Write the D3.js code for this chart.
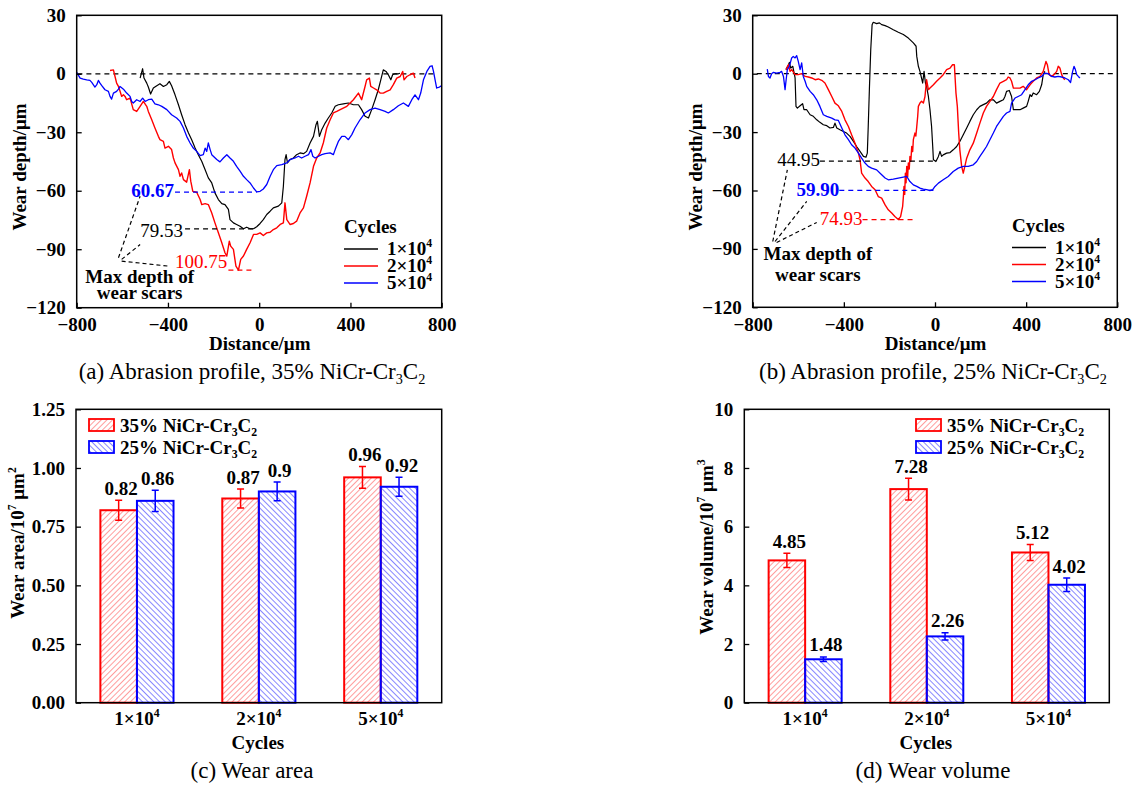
<!DOCTYPE html>
<meta charset="utf-8">
<script src="https://d3js.org/d3.v7.min.js"></script>
<style>
  body { margin: 0; background: #fff; }
</style>
<div id="chart"></div>
<script>

// ---- wear profiles: [distance (um), wear depth (um)] ----
var depthA1 = [[-522,-2.2],[-511,2.6],[-505,-2.2],[-493,-4.8],[-486,-6.8],[-476,-10.4],[-464,-7.3],[-449,-6.1],[-435,-5.1],[-420,-6.5],[-405,-5.6],[-394,-3.9],[-384,-6.1],[-369,-10.8],[-354,-15.9],[-340,-21.0],[-325,-26.1],[-310,-30.4],[-296,-33.8],[-281,-38.1],[-267,-41.5],[-252,-44.9],[-237,-49.2],[-223,-53.4],[-208,-56.0],[-194,-61.1],[-179,-64.5],[-164,-66.6],[-150,-67.1],[-135,-69.6],[-128,-74.8],[-113,-76.5],[-99,-77.3],[-84,-78.2],[-69,-79.5],[-55,-78.7],[-40,-79.5],[-25,-79.5],[-11,-78.5],[4,-76.8],[18,-74.8],[33,-72.2],[48,-70.5],[62,-68.8],[84,-67.9],[99,-66.2],[106,-57.7],[113,-44.0],[118,-41.5],[124,-45.7],[135,-44.0],[150,-43.2],[164,-41.5],[179,-40.6],[194,-41.0],[208,-39.8],[223,-35.5],[238,-32.1],[249,-26.1],[255,-24.4],[264,-32.1],[274,-28.7],[289,-25.3],[303,-22.7],[318,-20.1],[333,-16.7],[347,-15.9],[369,-15.4],[391,-15.0],[413,-15.9],[435,-15.9],[449,-18.4],[464,-21.8],[479,-22.7],[493,-18.4],[508,-13.3],[522,-8.2],[533,-3.1],[544,2.0],[556,1.2],[566,-0.5],[577,-3.1],[585,-0.5],[596,0],[610,0],[617,0.3]];
var depthA2 = [[-654,1.7],[-639,2.0],[-632,-1.4],[-625,-4.8],[-617,-6.5],[-610,-9.0],[-603,-11.6],[-595,-10.8],[-588,-11.6],[-581,-13.3],[-566,-12.5],[-552,-18.4],[-537,-19.3],[-522,-16.7],[-508,-14.2],[-493,-16.7],[-486,-19.3],[-471,-23.6],[-457,-27.8],[-442,-32.1],[-435,-33.8],[-420,-34.7],[-413,-38.1],[-398,-37.2],[-384,-38.9],[-376,-43.2],[-369,-45.7],[-354,-49.2],[-347,-52.6],[-340,-50.9],[-332,-54.3],[-318,-55.6],[-306,-49.2],[-300,-55.1],[-291,-60.3],[-274,-60.8],[-259,-64.5],[-252,-67.1],[-237,-66.6],[-223,-67.1],[-208,-71.4],[-194,-76.5],[-179,-81.6],[-164,-86.7],[-150,-91.8],[-142,-93.5],[-131,-85.9],[-125,-88.4],[-113,-90.1],[-102,-98.7],[-91,-100.7],[-81,-95.2],[-69,-93.5],[-55,-90.1],[-40,-86.7],[-25,-82.4],[-11,-82.4],[4,-81.6],[18,-83.0],[33,-81.6],[48,-81.3],[62,-79.9],[77,-79.0],[92,-77.3],[106,-76.5],[113,-66.2],[121,-74.8],[135,-77.3],[150,-76.8],[164,-75.6],[179,-71.4],[194,-68.8],[208,-62.8],[223,-56.0],[238,-47.5],[252,-43.2],[267,-40.6],[281,-35.5],[296,-27.8],[311,-23.6],[325,-20.1],[340,-19.3],[355,-18.4],[384,-16.7],[413,-13.3],[435,-9.9],[449,-13.3],[464,-6.5],[471,-3.1],[483,-2.2],[489,-6.5],[501,-7.3],[515,-8.2],[530,-9.9],[544,-9.9],[559,-9.0],[574,-8.2],[588,-5.6],[603,-2.2],[618,-1.4],[629,1.2],[635,-3.1],[647,-1.4],[661,-0.5],[676,0.3],[683,-2.2]];
var depthA5 = [[-800,0.7],[-785,-2.2],[-771,-2.7],[-756,-3.1],[-742,-3.4],[-734,-4.4],[-720,-6.8],[-712,-5.6],[-705,-3.4],[-698,-4.8],[-690,-6.1],[-676,-8.2],[-661,-9.0],[-654,-11.6],[-647,-13.0],[-639,-9.9],[-625,-9.0],[-617,-7.9],[-610,-6.5],[-595,-7.9],[-581,-9.9],[-566,-11.6],[-559,-14.2],[-552,-15.0],[-537,-13.3],[-522,-14.2],[-511,-12.5],[-500,-14.2],[-486,-13.3],[-471,-13.0],[-457,-15.4],[-442,-15.9],[-427,-16.7],[-405,-18.4],[-384,-21.0],[-362,-22.7],[-347,-24.4],[-332,-27.8],[-318,-32.1],[-303,-35.5],[-289,-38.1],[-274,-39.8],[-259,-42.0],[-245,-41.5],[-237,-38.1],[-230,-39.8],[-223,-35.5],[-215,-38.9],[-208,-41.5],[-201,-42.3],[-186,-44.0],[-172,-45.2],[-157,-43.2],[-142,-41.5],[-128,-43.2],[-113,-44.9],[-99,-47.5],[-84,-50.0],[-69,-52.6],[-55,-54.3],[-40,-56.0],[-25,-58.6],[-11,-60.6],[4,-60.3],[18,-59.1],[33,-56.8],[48,-52.6],[62,-49.2],[77,-47.1],[99,-46.6],[121,-45.7],[135,-44.0],[157,-43.2],[172,-42.3],[186,-43.2],[201,-42.3],[216,-41.5],[227,-38.9],[235,-42.3],[245,-43.2],[260,-42.3],[274,-41.5],[289,-41.0],[311,-40.6],[325,-41.5],[333,-38.9],[347,-34.7],[362,-32.1],[376,-32.1],[391,-33.8],[406,-31.2],[420,-27.8],[442,-23.6],[464,-20.1],[486,-18.4],[508,-17.6],[530,-18.4],[552,-19.3],[566,-20.1],[588,-18.4],[610,-16.4],[632,-15.0],[654,-16.7],[669,-13.3],[683,-10.8],[698,-13.3],[708,-9.9],[720,-3.1],[735,1.2],[749,3.8],[758,4.1],[764,1.2],[771,-3.1],[778,-7.3],[790,-6.8],[800,-6.1]];

var depthB1 = [[-654,2.1],[-643,4.6],[-639,5.8],[-633,2.9],[-624,3.8],[-614,-2.2],[-610,-16.8],[-604,-17.7],[-592,-16.5],[-581,-15.4],[-575,-18.5],[-563,-18.5],[-548,-21.1],[-534,-21.9],[-519,-23.7],[-505,-25.0],[-490,-26.2],[-475,-26.7],[-461,-27.9],[-446,-27.6],[-439,-25.4],[-431,-27.9],[-417,-28.8],[-402,-29.7],[-388,-30.5],[-373,-32.2],[-358,-34.8],[-344,-37.4],[-329,-39.9],[-314,-42.5],[-303,-42.9],[-297,-40.8],[-293,-27.1],[-288,-8.2],[-282,12.3],[-276,25.2],[-271,26.4],[-256,25.7],[-244,26.1],[-234,25.2],[-219,24.7],[-205,24.0],[-183,22.6],[-161,21.3],[-139,20.1],[-117,18.3],[-95,15.8],[-83,14.1],[-80,8.9],[-73,3.8],[-66,1.2],[-54,-4.8],[-48,1.2],[-42,-4.8],[-37,-6.5],[-29,-11.7],[-22,-18.5],[-15,-27.1],[-10,-37.4],[-7,-44.2],[4,-45.1],[15,-42.5],[22,-39.9],[29,-42.5],[36,-41.7],[51,-40.8],[66,-40.5],[80,-39.1],[95,-37.4],[109,-34.8],[124,-31.4],[139,-27.9],[153,-24.5],[168,-21.1],[183,-18.5],[197,-16.8],[212,-15.9],[226,-15.1],[241,-13.4],[256,-13.4],[270,-15.1],[285,-14.2],[300,-13.4],[307,-11.7],[314,-9.1],[326,-8.6],[336,-11.7],[344,-18.5],[358,-18.5],[373,-18.5],[387,-17.7],[402,-16.8],[409,-14.2],[417,-10.8],[424,-11.7],[431,-9.9],[446,-10.8],[458,-9.1],[468,-5.7],[475,-0.5],[482,1.2]];
var depthB2 = [[-654,2.1],[-643,4.6],[-636,1.2],[-629,2.1],[-614,-0.5],[-600,-0.5],[-585,0],[-570,-1.4],[-556,-1.7],[-541,-2.2],[-526,-3.1],[-512,-2.7],[-497,-3.4],[-483,-4.8],[-468,-8.2],[-453,-11.7],[-439,-15.1],[-424,-16.5],[-409,-19.4],[-395,-23.7],[-380,-27.1],[-366,-31.4],[-351,-35.7],[-336,-40.8],[-329,-44.2],[-322,-51.1],[-307,-53.6],[-293,-55.4],[-278,-57.9],[-263,-59.6],[-249,-63.1],[-234,-63.9],[-219,-67.4],[-205,-69.9],[-190,-71.6],[-176,-73.4],[-161,-74.9],[-151,-73.4],[-142,-68.2],[-138,-62.0],[-136,-57.9],[-133,-62.0],[-130,-51.1],[-127,-56.0],[-124,-47.6],[-120,-53.0],[-117,-45.9],[-113,-49.0],[-110,-42.5],[-106,-45.0],[-102,-37.4],[-98,-40.0],[-95,-33.9],[-88,-30.5],[-84,-32.0],[-80,-27.1],[-76,-22.0],[-73,-16.8],[-66,-15.1],[-59,-14.2],[-51,-15.1],[-44,-11.7],[-37,-3.1],[-29,-8.2],[-22,-7.4],[-7,-5.7],[7,-3.9],[22,-2.2],[36,-0.5],[51,2.1],[66,2.9],[77,4.6],[85,4.6],[92,-9.9],[98,-16.8],[104,-30.5],[109,-39.1],[117,-47.6],[124,-51.1],[131,-47.6],[139,-43.4],[153,-39.1],[168,-35.7],[183,-30.5],[197,-25.4],[212,-20.2],[226,-16.8],[241,-14.2],[256,-11.7],[270,-8.2],[285,-4.8],[300,-3.9],[314,-3.1],[321,-1.7],[329,-2.2],[336,-3.9],[344,-7.4],[358,-7.4],[373,-7.4],[387,-6.5],[402,-8.2],[417,-5.7],[431,-3.9],[446,-2.2],[461,-1.4],[475,1.2],[487,6.3],[493,4.6],[501,-0.5],[512,-1.4],[522,-0.5],[534,1.2],[541,3.8],[548,2.9],[556,-0.5],[563,-2.2],[570,-3.1]];
var depthB5 = [[-736,2.4],[-731,-1.4],[-724,-2.2],[-717,0],[-709,0.7],[-695,0.3],[-680,0.7],[-673,1.2],[-665,-1.4],[-658,-8.2],[-654,-3.9],[-648,2.1],[-639,3.8],[-629,8.1],[-622,8.9],[-614,8.1],[-607,9.3],[-600,6.3],[-592,2.1],[-585,5.5],[-578,-1.4],[-570,-3.9],[-563,-6.5],[-548,-9.1],[-534,-10.8],[-519,-13.4],[-505,-16.8],[-490,-21.1],[-475,-21.9],[-453,-22.8],[-439,-23.7],[-424,-24.0],[-409,-27.9],[-395,-31.4],[-380,-33.9],[-366,-36.5],[-351,-38.2],[-336,-40.8],[-322,-43.4],[-307,-45.9],[-293,-47.6],[-278,-48.5],[-256,-49.4],[-234,-51.9],[-219,-53.6],[-205,-54.5],[-183,-54.2],[-161,-53.6],[-139,-53.1],[-124,-52.8],[-110,-55.4],[-95,-57.1],[-80,-57.9],[-66,-58.8],[-51,-59.3],[-37,-59.6],[-22,-60.0],[-10,-59.6],[0,-57.9],[15,-56.2],[36,-54.5],[58,-52.8],[80,-50.2],[102,-48.5],[124,-47.6],[146,-47.6],[168,-46.8],[183,-45.1],[197,-42.5],[212,-39.9],[226,-37.4],[241,-33.9],[256,-30.5],[270,-27.1],[285,-24.5],[300,-21.9],[314,-20.2],[329,-19.4],[336,-15.1],[351,-12.5],[365,-11.7],[380,-10.8],[395,-8.2],[409,-5.7],[424,-3.9],[439,-3.1],[453,-2.2],[468,-1.4],[482,0.3],[497,0],[512,-1.4],[526,-1.7],[541,-1.4],[556,-1.7],[570,-2.2],[585,-3.1],[595,-4.5],[604,1.2],[610,3.8],[616,2.1],[622,-0.5],[629,-1.4],[636,-2.2]];

var distTicks = [-800, -400, 0, 400, 800];
var depthTicks = [30, 0, -30, -60, -90, -120];
var cycleNames = ["1×10^4", "2×10^4", "5×10^4"];
var maxDepthA = [79.53, 100.75, 60.67];   // 1e4, 2e4, 5e4
var maxDepthB = [44.95, 74.93, 59.90];

// ---- wear area and volume ----
var coatings = ["35% NiCr-Cr_3C_2", "25% NiCr-Cr_3C_2"];
var area35 = [0.82, 0.87, 0.96], areaErr35 = [0.043, 0.04, 0.046];
var area25 = [0.86, 0.9, 0.92],  areaErr25 = [0.045, 0.04, 0.04];
var vol35 = [4.85, 7.28, 5.12],  volErr35 = [0.24, 0.37, 0.27];
var vol25 = [1.48, 2.26, 4.02],  volErr25 = [0.08, 0.12, 0.23];
var areaTicks = [0, 0.25, 0.5, 0.75, 1, 1.25];
var volTicks = [0, 2, 4, 6, 8, 10];

var FONT = "'Times New Roman', 'Liberation Serif', serif";
var RED = "#ff0000", BLUE = "#0000ff";
var fmt2 = d3.format(".2f");

var svg = d3.select("#chart").append("svg")
    .attr("width", 1138)
    .attr("height", 786);

// hatch patterns for the bars
var defs = svg.append("defs");
function hatch(id, color, angle) {
  defs.append("pattern")
      .attr("id", id)
      .attr("patternUnits", "userSpaceOnUse")
      .attr("width", 4).attr("height", 4)
      .attr("patternTransform", "rotate(" + angle + ")")
    .append("line")
      .attr("x1", 0).attr("y1", 0).attr("x2", 0).attr("y2", 4)
      .attr("stroke", color).attr("stroke-width", 1.1);
}
hatch("hatchRed", "#ff4a4a", 45);
hatch("hatchBlue", "#2424ff", -45);

function font(sel, size, weight) {
  sel.attr("font-family", FONT).attr("font-size", size).attr("font-weight", weight || "bold");
}

// text with ^x superscripts and _x subscripts
function rich(sel, str, fs) {
  var parts = str.split(/([\^_]\d)/).filter(function(s) { return s; });
  var cur = 0;
  parts.forEach(function(p) {
    var target = 0, txt = p, small = false;
    if (p[0] === "^") { target = -0.42 * fs; txt = p[1]; small = true; }
    else if (p[0] === "_") { target = 0.22 * fs; txt = p[1]; small = true; }
    var t = sel.append("tspan").attr("dy", target - cur).text(txt);
    if (small) t.attr("font-size", fs * 0.62);
    cur = target;
  });
}

function styleAxis(g) {
  g.select(".domain").remove();
  g.attr("font-family", FONT).attr("font-size", 19).attr("font-weight", "bold");
  g.selectAll(".tick line").attr("stroke", "#000").attr("stroke-width", 1.3);
  g.selectAll(".tick text").attr("fill", "#000");
}

function frame(g, box) {
  g.append("rect")
      .attr("x", box.l).attr("y", box.t)
      .attr("width", box.r - box.l).attr("height", box.b - box.t)
      .attr("fill", "none").attr("stroke", "#000").attr("stroke-width", 1.5);
}

function drawProfile(o) {
  var g = svg.append("g");
  var box = o.box;
  var x = d3.scaleLinear().domain([-800, 800]).range([box.l, box.r]);
  var y = d3.scaleLinear().domain([-120, 30]).range([box.b, box.t]);
  var line = d3.line().x(function(d) { return x(d[0]); }).y(function(d) { return y(d[1]); });

  g.append("path")
      .attr("d", line([[o.zero[0], 0], [o.zero[1], 0]]))
      .attr("fill", "none").attr("stroke", "#000")
      .attr("stroke-width", 1.3).attr("stroke-dasharray", "5,4");

  o.curves.forEach(function(c) {
    g.append("path")
        .attr("d", line(c.data))
        .attr("fill", "none")
        .attr("stroke", c.color)
        .attr("stroke-width", c.width)
        .attr("stroke-linejoin", "round");
  });

  // max depth guides and values
  o.notes.forEach(function(n) {
    g.append("path")
        .attr("d", line([[n.x1, -n.v], [n.x2, -n.v]]))
        .attr("fill", "none").attr("stroke", n.color)
        .attr("stroke-width", 1.3).attr("stroke-dasharray", "5,4");
    g.append("text")
        .attr("x", x(n.tx)).attr("y", y(n.ty))
        .attr("text-anchor", n.anchor)
        .attr("fill", n.color)
        .call(font, 19, n.weight)
        .text(fmt2(n.v));
  });

  o.leaders.forEach(function(l) {
    g.append("path")
        .attr("d", line(l))
        .attr("fill", "none").attr("stroke", "#000")
        .attr("stroke-width", 1.2).attr("stroke-dasharray", "4,3");
  });

  g.append("text")
      .attr("x", x(o.maxText[0])).attr("y", y(o.maxText[1]))
      .attr("text-anchor", "middle").call(font, 19)
      .text("Max depth of");
  g.append("text")
      .attr("x", x(o.maxText[0])).attr("y", y(o.maxText[2]))
      .attr("text-anchor", "middle").call(font, 19)
      .text("wear scars");

  // legend
  var lg = o.legend;
  g.append("text").attr("x", lg.x).attr("y", lg.y).call(font, 19).text("Cycles");
  o.curves.forEach(function(c, i) {
    var ly = lg.y + 16 + i * 17;
    g.append("line")
        .attr("x1", lg.x).attr("x2", lg.x + 34)
        .attr("y1", ly).attr("y2", ly)
        .attr("stroke", c.color).attr("stroke-width", c.width + 0.3);
    g.append("text")
        .attr("x", lg.x + 43).attr("y", ly + 6)
        .call(font, 19)
        .call(rich, cycleNames[i], 19);
  });

  g.append("g")
      .attr("transform", "translate(0," + box.b + ")")
      .call(d3.axisBottom(x).tickValues(distTicks).tickSizeInner(-5).tickSizeOuter(0).tickPadding(10))
      .call(styleAxis);
  g.append("g")
      .attr("transform", "translate(" + box.l + ",0)")
      .call(d3.axisLeft(y).tickValues(depthTicks).tickSizeInner(-5).tickSizeOuter(0).tickPadding(11))
      .call(styleAxis);
  frame(g, box);

  g.append("text")
      .attr("x", (box.l + box.r) / 2 + 0.5).attr("y", 350)
      .attr("text-anchor", "middle").call(font, 19)
      .text("Distance/μm");
  g.append("text")
      .attr("transform", "translate(" + o.yTitleX + ",167) rotate(-90)")
      .attr("text-anchor", "middle").call(font, 19)
      .text("Wear depth/μm");
  g.append("text")
      .attr("x", o.capX).attr("y", 379)
      .attr("text-anchor", "middle").call(font, 23, "normal")
      .call(rich, o.caption, 23);
}

drawProfile({
  box: {l: 76.7, r: 441.7, t: 15.3, b: 307.7},
  zero: [-797, 771],
  curves: [
    {data: depthA1, color: "#000", width: 1.2},
    {data: depthA2, color: RED, width: 1.4},
    {data: depthA5, color: BLUE, width: 1.3}
  ],
  notes: [
    {v: maxDepthA[2], color: BLUE, weight: "bold", tx: -373, ty: -63.0, anchor: "end", x1: -369, x2: -11},
    {v: maxDepthA[0], color: "#000", weight: "normal", tx: -334, ty: -83.5, anchor: "end", x1: -325, x2: -25},
    {v: maxDepthA[1], color: RED, weight: "normal", tx: -369, ty: -99.8, anchor: "start", x1: -135, x2: -28}
  ],
  leaders: [
    [[-617, -94.4], [-522, -62.8]],
    [[-603, -95.2], [-522, -87.6]],
    [[-603, -96.1], [-394, -98.7]]
  ],
  maxText: [-524, -107.5, -115.7],
  legend: {x: 344, y: 233},
  yTitleX: 26,
  capX: 252,
  caption: "(a) Abrasion profile, 35% NiCr-Cr_3C_2"
});

drawProfile({
  box: {l: 752.7, r: 1117.3, t: 15.3, b: 307.3},
  zero: [-782, 782],
  curves: [
    {data: depthB1, color: "#000", width: 1.2},
    {data: depthB2, color: RED, width: 1.4},
    {data: depthB5, color: BLUE, width: 1.3}
  ],
  notes: [
    {v: maxDepthB[0], color: "#000", weight: "normal", tx: -505, ty: -47.3, anchor: "end", x1: -505, x2: 4},
    {v: maxDepthB[2], color: BLUE, weight: "bold", tx: -420, ty: -63.0, anchor: "end", x1: -420, x2: -7},
    {v: maxDepthB[1], color: RED, weight: "normal", tx: -318, ty: -77.6, anchor: "end", x1: -318, x2: -88}
  ],
  leaders: [
    [[-712, -86.2], [-648, -49.4]],
    [[-702, -86.2], [-563, -65.6]],
    [[-695, -86.7], [-519, -76.4]]
  ],
  maxText: [-514, -95.5, -106.3],
  legend: {x: 1012, y: 231.5},
  yTitleX: 702,
  capX: 933,
  caption: "(b) Abrasion profile, 25% NiCr-Cr_3C_2"
});

function drawBars(o) {
  var g = svg.append("g");
  var box = o.box;
  var x = d3.scaleBand().domain(cycleNames).range([box.l, box.r]);
  var y = d3.scaleLinear().domain([0, o.ticks[o.ticks.length - 1]]).range([box.b, box.t]);
  var bw = x.bandwidth() * 0.3;
  var series = [
    {vals: o.v35, errs: o.e35, fill: "url(#hatchRed)", stroke: RED, shift: -1},
    {vals: o.v25, errs: o.e25, fill: "url(#hatchBlue)", stroke: BLUE, shift: 0}
  ];

  series.forEach(function(s) {
    var cx = function(i) { return x(cycleNames[i]) + x.bandwidth() / 2 + (s.shift + 0.5) * bw; };
    g.selectAll(null)
      .data(s.vals)
      .enter()
      .append("rect")
        .attr("x", function(d, i) { return cx(i) - bw / 2; })
        .attr("y", function(d) { return y(d); })
        .attr("width", bw)
        .attr("height", function(d) { return y(0) - y(d); })
        .attr("fill", s.fill)
        .attr("stroke", s.stroke)
        .attr("stroke-width", 2);

    s.vals.forEach(function(v, i) {
      var e = s.errs[i], c = cx(i);
      g.append("path")
          .attr("d", "M" + c + "," + y(v - e) + "V" + y(v + e) +
                     "M" + (c - 3.5) + "," + y(v + e) + "H" + (c + 3.5) +
                     "M" + (c - 3.5) + "," + y(v - e) + "H" + (c + 3.5))
          .attr("fill", "none").attr("stroke", s.stroke).attr("stroke-width", 1.5);
      g.append("text")
          .attr("x", c + 2.5).attr("y", y(v + e) - 5.5)
          .attr("text-anchor", "middle").call(font, 19)
          .text(String(v));
    });
  });

  g.append("g")
      .attr("transform", "translate(" + box.l + ",0)")
      .call(d3.axisLeft(y).tickValues(o.ticks).tickFormat(o.fmt).tickSizeInner(-5).tickSizeOuter(0).tickPadding(11))
      .call(styleAxis);
  frame(g, box);

  cycleNames.forEach(function(c) {
    g.append("text")
        .attr("x", x(c) + x.bandwidth() / 2).attr("y", 725)
        .attr("text-anchor", "middle").call(font, 19)
        .call(rich, c, 19);
  });
  g.append("text")
      .attr("x", (box.l + box.r) / 2 - 1).attr("y", 749)
      .attr("text-anchor", "middle").call(font, 19)
      .text("Cycles");
  g.append("text")
      .attr("transform", "translate(" + o.yTitleX + "," + o.yTitleY + ") rotate(-90)")
      .attr("text-anchor", "middle").call(font, 19)
      .call(rich, o.yTitle, 19);

  // legend
  series.forEach(function(s, i) {
    g.append("rect")
        .attr("x", o.legendX).attr("y", 419 + i * 22)
        .attr("width", 25).attr("height", 12)
        .attr("fill", s.fill).attr("stroke", s.stroke).attr("stroke-width", 1.8);
    g.append("text")
        .attr("x", o.legendX + 31).attr("y", 431.5 + i * 22.5)
        .call(font, 19)
        .call(rich, coatings[i], 19);
  });

  g.append("text")
      .attr("x", o.capX).attr("y", 778)
      .attr("text-anchor", "middle").call(font, 23, "normal")
      .text(o.caption);
}

drawBars({
  box: {l: 76, r: 441.7, t: 409.3, b: 702.7},
  v35: area35, e35: areaErr35, v25: area25, e25: areaErr25,
  ticks: areaTicks, fmt: d3.format(".2f"),
  yTitle: "Wear area/10^7 μm^2", yTitleX: 24, yTitleY: 543,
  legendX: 89, capX: 252, caption: "(c) Wear area"
});

drawBars({
  box: {l: 744.3, r: 1109.3, t: 409.3, b: 702.7},
  v35: vol35, e35: volErr35, v25: vol25, e25: volErr25,
  ticks: volTicks, fmt: d3.format("d"),
  yTitle: "Wear volume/10^7 μm^3", yTitleX: 713, yTitleY: 547,
  legendX: 916, capX: 933, caption: "(d) Wear volume"
});

</script>
